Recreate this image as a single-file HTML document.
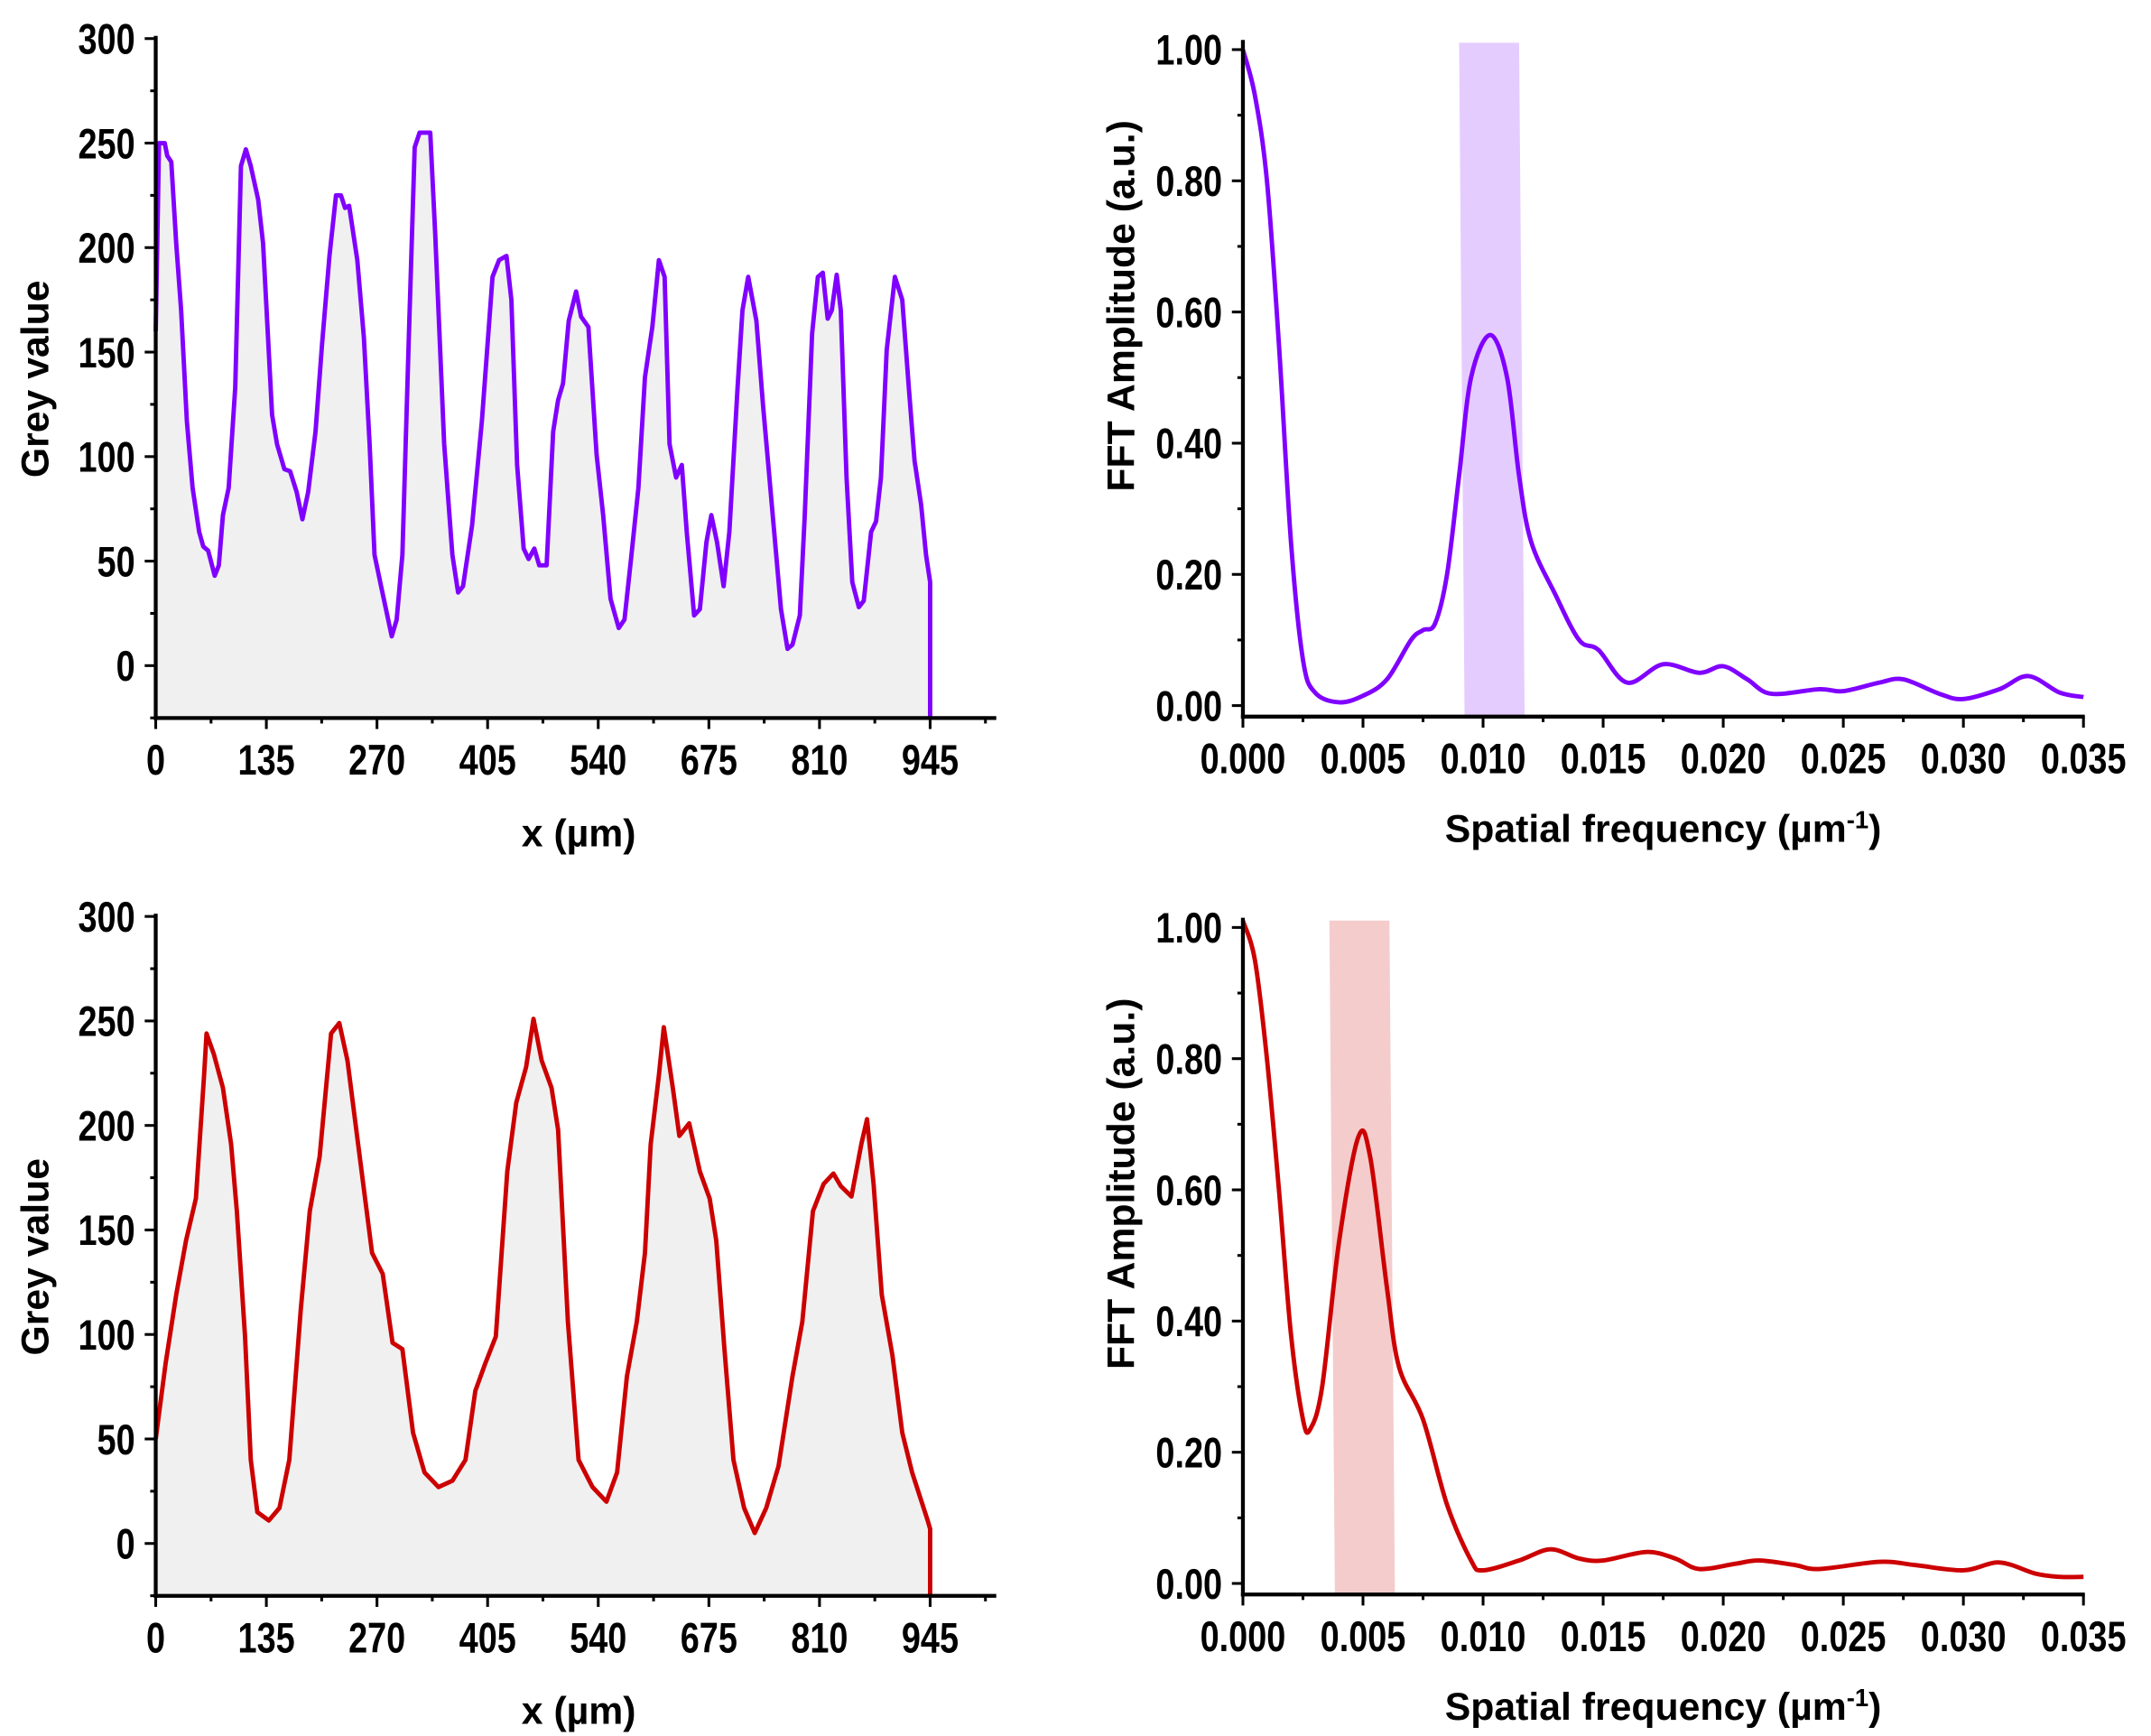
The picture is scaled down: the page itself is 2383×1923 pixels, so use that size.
<!DOCTYPE html>
<html><head><meta charset="utf-8"><style>
html,body{margin:0;padding:0;background:#fff}
svg{display:block}
.tk{font-family:"Liberation Sans Narrow","Liberation Sans",sans-serif;font-weight:bold;font-size:31px;fill:#000}
.tt{font-family:"Liberation Sans",sans-serif;font-weight:bold;font-size:28px;fill:#000}
</style></head><body>
<svg id="fig" width="2383" height="1923" viewBox="0 0 1561 1259.7" xmlns="http://www.w3.org/2000/svg"></svg>
<script>
// ---- Panel A: purple grey-value profile ----
const profAX=[0,4,11,14,19,25,31,38,45,53,58,64,72,77,82,89,97,104,110,116,125,131,142,148,157,164,172,179,186,195,203,212,220,226,231,236,246,254,261,267,275,288,294,301,309,316,322,335,341,352,362,369,375,386,398,411,419,428,434,441,449,455,462,468,477,485,491,497,504,513,519,528,538,546,555,565,572,580,589,597,606,614,621,627,635,642,648,657,664,672,678,685,693,700,710,716,723,733,741,750,763,771,777,786,792,801,808,814,820,825,831,836,843,850,858,864,873,879,885,892,902,911,919,926,934,940,945];
const profAY=[160,250,250,244,241,202,170,117,85,64,57,55,43,48,72,85,133,239,247,239,223,202,120,106,94,93,83,70,83,112,154,196,225,225,219,220,194,157,106,53,38,14,22,53,159,248,255,255,207,106,53,35,38,67,117,186,194,196,175,96,56,51,56,48,48,112,127,135,165,179,167,162,101,72,32,18,22,51,85,138,162,194,186,106,90,96,64,24,27,59,72,59,38,64,133,170,186,165,125,85,27,8,10,24,72,159,186,188,166,170,187,170,90,40,28,31,64,69,90,151,186,175,133,98,77,53,40];
// ---- Panel B: purple FFT ----
const fftBX=[0,0.0005,0.001,0.0015,0.002,0.0025,0.003,0.004,0.005,0.006,0.007,0.0075,0.008,0.0085,0.009,0.0095,0.0103,0.011,0.0115,0.012,0.013,0.014,0.0148,0.016,0.0175,0.019,0.020,0.021,0.022,0.024,0.025,0.0265,0.0275,0.029,0.030,0.0315,0.0327,0.034,0.035];
const fftBY=[1.0,0.93,0.80,0.55,0.25,0.07,0.02,0.005,0.015,0.04,0.1,0.115,0.125,0.2,0.35,0.5,0.565,0.5,0.35,0.25,0.17,0.1,0.085,0.035,0.063,0.05,0.06,0.04,0.018,0.025,0.022,0.035,0.04,0.018,0.01,0.025,0.045,0.02,0.013];
const bandB=[0.009,0.0115];
// ---- Panel C: red grey-value profile ----
const profCX=[0,12,25,37,49,59,62,71,82,92,99,109,116,124,138,151,163,177,188,200,214,224,234,247,264,277,289,301,314,328,345,362,378,390,402,415,429,440,452,461,471,483,491,503,516,533,550,563,575,587,597,604,614,620,631,639,651,664,676,684,694,705,718,731,745,760,777,789,802,815,827,836,849,861,868,876,886,899,911,923,942,945];
const profCY=[50,86,119,145,165,224,244,234,218,191,159,99,40,15,11,17,40,112,159,185,244,249,231,191,139,129,96,93,53,34,27,30,40,73,86,99,178,211,228,251,231,218,198,106,40,27,20,34,80,106,139,191,224,247,218,195,201,178,165,145,93,40,17,5,17,37,80,106,159,172,177,171,166,191,203,172,119,90,53,34,11,7];
// ---- Panel D: red FFT ----
const fftDX=[0,0.0005,0.001,0.0015,0.002,0.0025,0.0028,0.0033,0.004,0.0048,0.0053,0.006,0.0065,0.0075,0.0085,0.0095,0.010,0.0115,0.0128,0.014,0.015,0.0168,0.018,0.019,0.0205,0.0215,0.023,0.024,0.0265,0.028,0.030,0.0315,0.033,0.034,0.035];
const fftDY=[1.01,0.95,0.80,0.6,0.38,0.25,0.235,0.3,0.52,0.68,0.65,0.45,0.33,0.25,0.12,0.035,0.02,0.035,0.052,0.038,0.035,0.048,0.038,0.022,0.03,0.035,0.028,0.022,0.033,0.028,0.02,0.032,0.015,0.01,0.01];
const bandD=[0.0036,0.0061];
const profTicks=["0","135","270","405","540","675","810","945"];
const greyTicks=["0","50","100","150","200","250","300"];
const fftXTicks=["0.000","0.005","0.010","0.015","0.020","0.025","0.030","0.035"];
const fftYTicks=["0.00","0.20","0.40","0.60","0.80","1.00"];

const svg=document.getElementById('fig');
const NS="http://www.w3.org/2000/svg";
function mk(tag,attrs,parent){const e=document.createElementNS(NS,tag);for(const k in attrs)e.setAttribute(k,attrs[k]);(parent||svg).appendChild(e);return e;}
function smooth(pts){let d=`M${pts[0][0]},${pts[0][1]}`;for(let i=0;i<pts.length-1;i++){const p0=pts[Math.max(0,i-1)],p1=pts[i],p2=pts[i+1],p3=pts[Math.min(pts.length-1,i+2)];
d+=` C${p1[0]+(p2[0]-p0[0])/6},${p1[1]+(p2[1]-p0[1])/6} ${p2[0]-(p3[0]-p1[0])/6},${p2[1]-(p3[1]-p1[1])/6} ${p2[0]},${p2[1]}`;}return d;}
function label(g,txt,x,y,anchor){const e=mk('text',{x:0,y:0,'text-anchor':anchor,class:'tk',transform:`translate(${x},${y}) scale(0.8,1)`},g);e.textContent=txt;return e;}

function profile(name,top,xs,ys,color){
  const g=mk('g',{});
  
  
  const x0=113,xEnd=723,y300=top,y0=top+455,yb=top+493;
  const X=v=>x0+v*562/945, Y=v=>y0-v*455/300;
  const pts=xs.map((v,i)=>[X(v),Y(ys[i])]);
  const fill=mk('path',{d:`M${X(0)},${yb} `+pts.map(p=>`L${p[0]},${p[1]}`).join(' ')+` L${X(945)},${yb} Z`,fill:'#f0f0f0'},g);
  
  
  const ln=mk('path',{d:'M'+pts.map(p=>p.join(',')).join(' L')+` L${X(945)},${yb}`,fill:'none',stroke:color,'stroke-width':3.2,'stroke-linejoin':'round'},g);
  
  
  mk('line',{x1:x0,y1:y300-2,x2:x0,y2:yb+1.5,stroke:'#000','stroke-width':2.8},g);
  mk('line',{x1:x0-1.4,y1:yb,x2:xEnd,y2:yb,stroke:'#000','stroke-width':2.8},g);
  for(let v=-25;v<=300;v+=25){const y=Y(v);const maj=v%50===0;mk('line',{x1:x0,y1:y,x2:x0-(maj?8:4),y2:y,stroke:'#000','stroke-width':2},g);}
  greyTicks.forEach(t=>{const e=label(g,t,x0-15,Y(+t)+11,'end');
    
    });
  for(let v=0;v<=1040;v+=67.5){const x=X(v);const maj=Math.round(v/67.5)%2===0;mk('line',{x1:x,y1:yb,x2:x,y2:yb+(maj?8:4),stroke:'#000','stroke-width':2},g);}
  profTicks.forEach(t=>{const e=label(g,t,X(+t),yb+41,'middle');
    
    });
  const yt=mk('text',{x:0,y:0,'text-anchor':'middle',class:'tt',transform:`translate(35,${top+247}) rotate(-90)`},g);yt.textContent='Grey value';
  
  
  const xt=mk('text',{x:420,y:yb+93,'text-anchor':'middle',class:'tt'},g);xt.textContent='x (µm)';
  
  
}

function fft(name,top,xs,ys,color,band,bandColor){
  const g=mk('g',{});
  
  
  const x0=902,x1=1512,y1=top,y0=top+476,yb=top+484;
  const X=v=>x0+v*610/0.035, Y=v=>y0-v*476;
  const b=mk('polygon',{points:`${X(band[0])},${top-5} ${X(band[1])},${top-5} ${X(band[1])+4},${yb} ${X(band[0])+4},${yb}`,fill:bandColor},g);
  
  
  const pts=xs.map((v,i)=>[X(v),Y(ys[i])]);
  const ln=mk('path',{d:smooth(pts),fill:'none',stroke:color,'stroke-width':3.2},g);
  
  
  mk('line',{x1:x0,y1:top-7,x2:x0,y2:yb+1.5,stroke:'#000','stroke-width':2.8},g);
  mk('line',{x1:x0-1.4,y1:yb,x2:x1+1,y2:yb,stroke:'#000','stroke-width':2.8},g);
  for(let i=0;i<=10;i++){const y=Y(i*0.1);mk('line',{x1:x0,y1:y,x2:x0-(i%2===0?8:4),y2:y,stroke:'#000','stroke-width':2},g);}
  fftYTicks.forEach(t=>{const e=label(g,t,x0-15,Y(+t)+11,'end');
    
    });
  for(let i=0;i<=14;i++){const x=X(i*0.0025);mk('line',{x1:x,y1:yb,x2:x,y2:yb+(i%2===0?8:4),stroke:'#000','stroke-width':2},g);}
  fftXTicks.forEach(t=>{const e=label(g,t,X(+t),yb+41,'middle');
    
    });
  const yt=mk('text',{x:0,y:0,'text-anchor':'middle',class:'tt',transform:`translate(823,${top+186}) rotate(-90)`},g);yt.textContent='FFT Amplitude (a.u.)';
  
  
  const xt=mk('text',{x:1207,y:yb+91,'text-anchor':'middle',class:'tt'},g);
  
  
  xt.appendChild(document.createTextNode('Spatial frequency (µm'));
  const sup=mk('tspan',{dy:-10,'font-size':18},xt);sup.textContent='-1';
  const cl=mk('tspan',{dy:10},xt);cl.textContent=')';
}
profile('profile-chart-top',28,profAX,profAY,'#8000ff');
fft('fft-chart-top',36,fftBX,fftBY,'#8000ff',bandB,'#e5ccff');
profile('profile-chart-bottom',665,profCX,profCY,'#cc0000');
fft('fft-chart-bottom',673,fftDX,fftDY,'#cc0000',bandD,'#f4cccc');
</script>
</body></html>
